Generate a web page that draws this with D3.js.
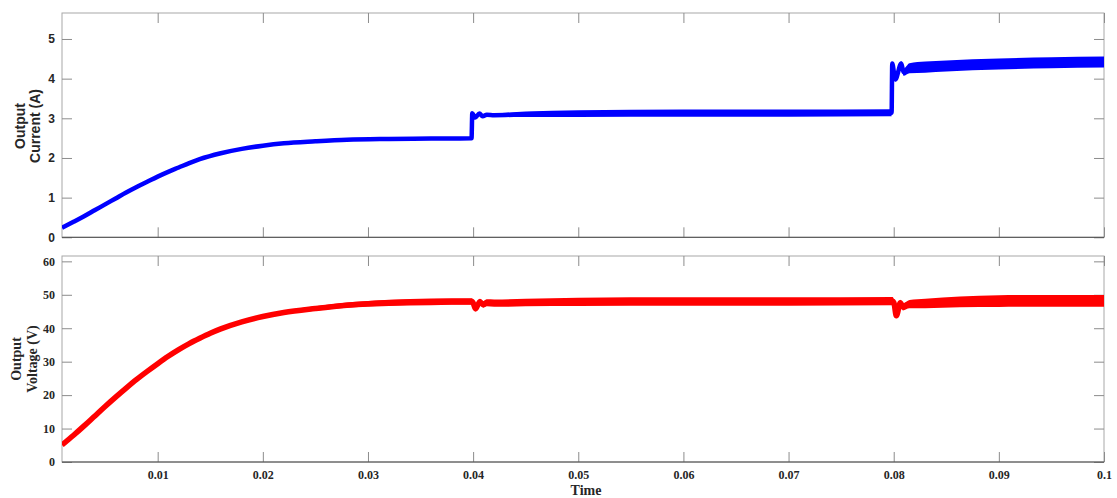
<!DOCTYPE html>
<html>
<head>
<meta charset="utf-8">
<script src="https://cdn.jsdelivr.net/npm/d3@7"></script>
<style>
  body { margin: 0; background: #fff; }
</style>
</head>
<body>
<div id="chart"></div>
<script>
// x axis (seconds)
const timeDomain = [0.0009, 0.1];
const timeTicks = [0.01, 0.02, 0.03, 0.04, 0.05, 0.06, 0.07, 0.08, 0.09, 0.1];
const timeTickLabels = ["0.01", "0.02", "0.03", "0.04", "0.05", "0.06", "0.07", "0.08", "0.09", "0.1"];

// output current (A): mean level and ripple band (peak-to-peak)
const currentTime = [0.0009, 0.002, 0.003, 0.004, 0.005, 0.006, 0.007, 0.008, 0.009, 0.010,
  0.011, 0.012, 0.013, 0.014, 0.016, 0.018, 0.020, 0.022, 0.025, 0.028, 0.032, 0.036, 0.03985,
  0.03992, 0.0402, 0.0406, 0.0409, 0.0413, 0.042, 0.045, 0.050, 0.060, 0.070, 0.0798,
  0.07986, 0.08015, 0.08072, 0.08094, 0.0815, 0.083, 0.085, 0.090, 0.095, 0.100];
const currentMean = [0.24, 0.39, 0.53, 0.68, 0.83, 0.98, 1.13, 1.27, 1.40, 1.53,
  1.65, 1.76, 1.87, 1.97, 2.12, 2.23, 2.31, 2.37, 2.42, 2.46, 2.48, 2.49, 2.50,
  3.13, 3.02, 3.12, 3.05, 3.09, 3.08, 3.10, 3.12, 3.13, 3.13, 3.14,
  4.38, 3.98, 4.38, 4.16, 4.26, 4.29, 4.32, 4.37, 4.40, 4.42];
const currentRipple = [0, 0, 0, 0, 0, 0, 0, 0, 0, 0,
  0, 0, 0, 0, 0, 0, 0, 0, 0, 0, 0, 0, 0,
  0.04, 0.05, 0.05, 0.06, 0.08, 0.10, 0.14, 0.17, 0.18, 0.18, 0.18,
  0.08, 0.10, 0.12, 0.18, 0.25, 0.28, 0.28, 0.28, 0.28, 0.28];
const currentTicks = [0, 1, 2, 3, 4, 5];
const currentTickLabels = ["0", "1", "2", "3", "4", "5"];

// output voltage (V)
const voltageTime = [0.0009, 0.002, 0.003, 0.004, 0.005, 0.006, 0.007, 0.008, 0.009, 0.010,
  0.011, 0.012, 0.013, 0.014, 0.015, 0.016, 0.018, 0.020, 0.022, 0.025, 0.028, 0.032, 0.036, 0.0399,
  0.0400, 0.04023, 0.04064, 0.04095, 0.0413, 0.042, 0.045, 0.050, 0.060, 0.070, 0.0799,
  0.08002, 0.08025, 0.08063, 0.08088, 0.0815, 0.083, 0.0863, 0.090, 0.095, 0.100];
const voltageMean = [5.1, 8.0, 10.8, 13.7, 16.6, 19.4, 22.1, 24.7, 27.1, 29.4,
  31.6, 33.6, 35.4, 37.0, 38.5, 39.8, 41.9, 43.5, 44.7, 45.9, 46.9, 47.6, 47.9, 48.0,
  47.6, 45.8, 47.9, 47.1, 47.6, 47.5, 47.7, 47.9, 48.0, 48.0, 48.1,
  47.6, 43.7, 47.6, 46.4, 47.2, 47.4, 47.9, 48.1, 48.2, 48.2];
const voltageRipple = [0, 0, 0, 0, 0, 0, 0, 0, 0, 0,
  0, 0, 0, 0, 0.1, 0.3, 0.5, 0.8, 1.0, 1.3, 1.6, 1.9, 2.0, 2.0,
  1.8, 1.6, 1.8, 2.0, 2.1, 2.2, 2.3, 2.5, 2.5, 2.5, 2.5,
  2.0, 1.5, 1.8, 2.2, 2.5, 2.8, 3.2, 3.5, 3.5, 3.5];
const voltageTicks = [0, 10, 20, 30, 40, 50, 60];
const voltageTickLabels = ["0", "10", "20", "30", "40", "50", "60"];

const width = 1117, height = 498;
const plotLeft = 62, plotRight = 1104;

const svg = d3.select("#chart").append("svg")
    .attr("width", width)
    .attr("height", height);

const x = d3.scaleLinear().domain(timeDomain).range([plotLeft, plotRight]);

function drawPanel(p) {
    const y = d3.scaleLinear().domain([0, p.yMax]).range([p.bottom, p.top]);
    const g = svg.append("g");

    g.append("clipPath").attr("id", p.id + "-clip")
      .append("rect")
        .attr("x", plotLeft).attr("y", p.top)
        .attr("width", plotRight - plotLeft).attr("height", p.bottom - p.top);

    // frame
    g.append("rect")
        .attr("x", plotLeft).attr("y", p.top)
        .attr("width", plotRight - plotLeft).attr("height", p.bottom - p.top)
        .attr("fill", "none").attr("stroke", "#a8a8a8");

    const noLabel = () => "";
    g.append("g").attr("transform", `translate(${plotLeft},0)`)
        .call(d3.axisLeft(y).tickValues(p.ticks).tickSize(-10).tickPadding(7)
            .tickFormat((d, i) => p.tickLabels[i]));
    g.append("g").attr("transform", `translate(${plotRight},0)`)
        .call(d3.axisRight(y).tickValues(p.ticks).tickSize(-10).tickFormat(noLabel));
    g.append("g").attr("transform", `translate(0,${p.top})`)
        .call(d3.axisTop(x).tickValues(timeTicks).tickSize(-10).tickFormat(noLabel));
    g.append("g").attr("transform", `translate(0,${p.bottom})`)
        .call(d3.axisBottom(x).tickValues(timeTicks).tickSize(-10).tickPadding(8.5)
            .tickFormat((d, i) => p.xLabels ? timeTickLabels[i] : ""));

    g.selectAll(".domain").remove();
    g.selectAll(".tick line").attr("stroke", "#8c8c8c");
    g.selectAll(".tick text")
        .attr("fill", "#262626")
        .style("font-family", p.font)
        .style("font-size", "12px")
        .style("font-weight", "bold");

    g.append("line")
        .attr("x1", plotLeft).attr("x2", plotRight)
        .attr("y1", p.bottom).attr("y2", p.bottom)
        .attr("stroke", "#4a4a4a");

    // data
    const rows = p.time.map((t, i) => ({ t: t, v: p.mean[i], r: p.ripple[i] }));
    const plot = g.append("g").attr("clip-path", `url(#${p.id}-clip)`);

    plot.append("path")
        .datum(rows)
        .attr("fill", p.color)
        .attr("d", d3.area()
            .x(d => x(d.t))
            .y0(d => y(d.v - d.r / 2))
            .y1(d => y(d.v + d.r / 2))
            .curve(d3.curveMonotoneX));

    plot.append("path")
        .datum(rows)
        .attr("fill", "none")
        .attr("stroke", p.color)
        .attr("stroke-width", p.lineWidth)
        .attr("stroke-linejoin", "round")
        .attr("d", d3.line().x(d => x(d.t)).y(d => y(d.v)).curve(d3.curveMonotoneX));

    // y title, two lines rotated
    p.title.forEach((txt, i) => {
        g.append("text")
            .attr("transform", "rotate(-90)")
            .attr("x", -p.titleCenter)
            .attr("y", p.titleBase[i])
            .attr("text-anchor", "middle")
            .attr("fill", "#262626")
            .style("font-family", p.font)
            .style("font-size", "14px")
            .style("font-weight", "bold")
            .text(txt);
    });
}

drawPanel({
    id: "current", top: 13, bottom: 237.3, yMax: 5.655,
    ticks: currentTicks, tickLabels: currentTickLabels,
    time: currentTime, mean: currentMean, ripple: currentRipple,
    color: "#0000ff", lineWidth: 4.5, xLabels: false,
    font: "'Liberation Sans', Arial, sans-serif",
    title: ["Output", "Current (A)"], titleCenter: 126, titleBase: [25, 40]
});

drawPanel({
    id: "voltage", top: 256, bottom: 462, yMax: 61.6,
    ticks: voltageTicks, tickLabels: voltageTickLabels,
    time: voltageTime, mean: voltageMean, ripple: voltageRipple,
    color: "#ff0000", lineWidth: 5.5, xLabels: true,
    font: "'Liberation Serif', 'Times New Roman', serif",
    title: ["Output", "Voltage (V)"], titleCenter: 359, titleBase: [21, 37]
});

svg.append("text")
    .attr("x", (plotLeft + plotRight) / 2 + 3)
    .attr("y", 495)
    .attr("text-anchor", "middle")
    .attr("fill", "#262626")
    .style("font-family", "'Liberation Serif', 'Times New Roman', serif")
    .style("font-size", "14px")
    .style("font-weight", "bold")
    .text("Time");
</script>
</body>
</html>
